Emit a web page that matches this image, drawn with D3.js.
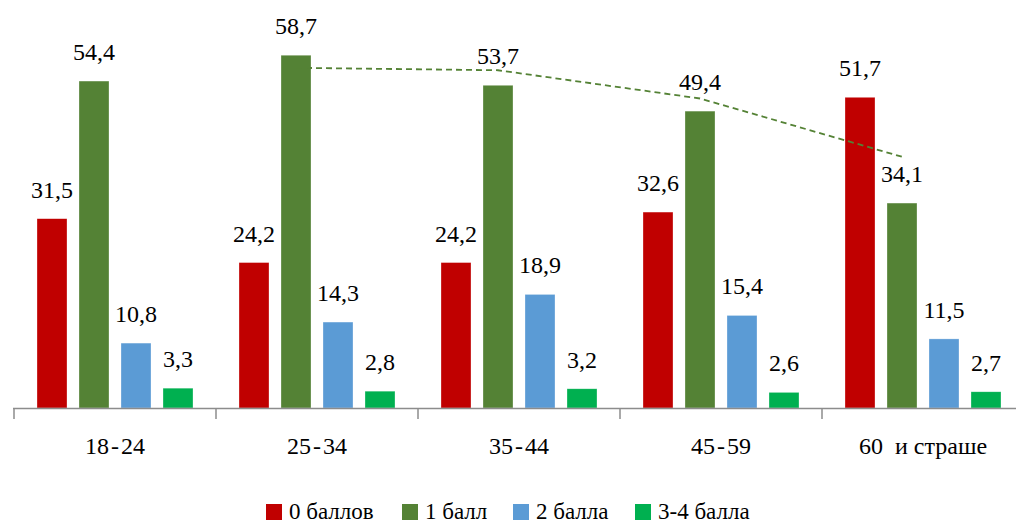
<!DOCTYPE html>
<html>
<head>
<meta charset="utf-8">
<title>Баллы по возрастным группам</title>
<style>
  body { margin: 0; background: #fff; }
</style>
</head>
<body>
<svg id="chart"></svg>
<script src="https://d3js.org/d3.v7.min.js"></script>
<script>
// data
const categories = ['18-24', '25-34', '35-44', '45-59', '60 и страше'];
const seriesNames = ['0 баллов', '1 балл', '2 балла', '3-4 балла'];
const zero = [31.5, 24.2, 24.2, 32.6, 51.7];
const one = [54.4, 58.7, 53.7, 49.4, 34.1];
const two = [10.8, 14.3, 18.9, 15.4, 11.5];
const threeFour = [3.3, 2.8, 3.2, 2.6, 2.7];
// moving average trend line of "1 балл" (from 25-34 onward)
const trendCats = ['25-34', '35-44', '45-59', '60 и страше'];
const trend = [56.6, 56.2, 51.5, 41.8];

const colors = ['#C00000', '#548235', '#5B9BD5', '#00B050'];
const values = [zero, one, two, threeFour];

const width = 1016, height = 522;
const font = 'Liberation Serif';
const svg = d3.select('#chart')
  .attr('width', width).attr('height', height);

const x = d3.scaleBand().domain(categories).range([14, 1024]);
const xs = d3.scaleBand().domain(seriesNames).range([23, 179]).paddingInner(12 / 42);
const y = d3.scaleLinear().domain([0, 60]).range([408, 47.4]);

const fmt = v => v.toFixed(1).replace('.', ',');

// bars
seriesNames.forEach((name, si) => {
  const rows = categories.map((c, i) => ({ c, v: values[si][i] }));
  const g = svg.append('g');
  g.selectAll('rect')
    .data(rows)
    .join('rect')
    .attr('x', d => x(d.c) + xs(name))
    .attr('y', d => y(d.v))
    .attr('width', xs.bandwidth())
    .attr('height', d => y(0) - y(d.v))
    .attr('fill', colors[si])
    .attr('stroke', '#ffffff')
    .attr('stroke-opacity', 0.5)
    .attr('stroke-width', 0.6);

  g.selectAll('text')
    .data(rows)
    .join('text')
    .attr('x', d => x(d.c) + xs(name) + xs.bandwidth() / 2)
    .attr('y', d => y(d.v) - 21)
    .attr('text-anchor', 'middle')
    .attr('font-family', font)
    .attr('font-size', 24)
    .text(d => fmt(d.v));
});

// trend line
const line = d3.line()
  .x((d, i) => x(trendCats[i]) + xs('1 балл') + xs.bandwidth() / 2)
  .y(d => y(d));
svg.append('path')
  .datum(trend)
  .attr('d', line)
  .attr('fill', 'none')
  .attr('stroke', '#548235')
  .attr('stroke-width', 1.8)
  .attr('stroke-dasharray', '6,4');

// x axis
const axis = svg.append('g');
axis.append('line')
  .attr('x1', 13).attr('x2', width)
  .attr('y1', 408.5).attr('y2', 408.5)
  .attr('stroke', '#8c8c8c').attr('stroke-width', 1.5);
axis.selectAll('line.tick')
  .data(categories)
  .join('line')
  .attr('class', 'tick')
  .attr('x1', d => x(d)).attr('x2', d => x(d))
  .attr('y1', 408).attr('y2', 419)
  .attr('stroke', '#8c8c8c').attr('stroke-width', 1.5);
axis.selectAll('text')
  .data(categories)
  .join('text')
  .attr('x', d => x(d) + x.bandwidth() / 2)
  .attr('y', 454)
  .attr('text-anchor', 'middle')
  .attr('font-family', font)
  .attr('font-size', 24)
  .text(d => d.replace('-', '\u200A-\u200A').replace(' и ', '\u2002и '));

// legend
const legendX = [266, 402, 513, 635];
const legend = svg.append('g');
seriesNames.forEach((name, i) => {
  legend.append('rect')
    .attr('x', legendX[i]).attr('y', 504)
    .attr('width', 16).attr('height', 16)
    .attr('fill', colors[i]);
  legend.append('text')
    .attr('x', legendX[i] + 23).attr('y', 519)
    .attr('font-family', font)
    .attr('font-size', 23)
    .text(name);
});
</script>
</body>
</html>
